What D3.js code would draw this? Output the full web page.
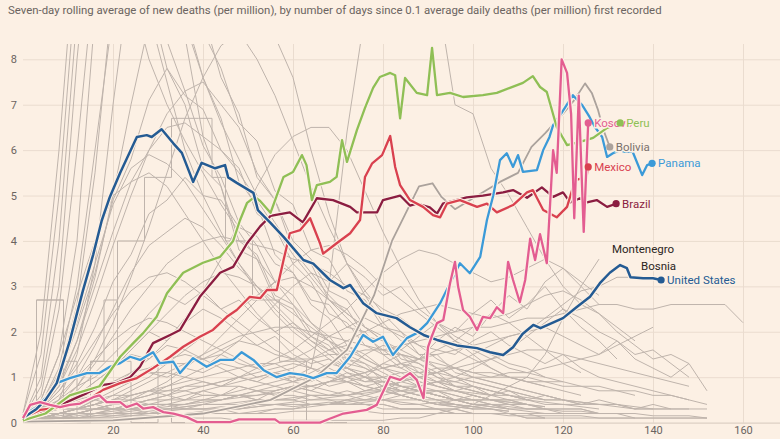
<!DOCTYPE html>
<html>
<head>
<meta charset="utf-8">
<script src="https://cdn.jsdelivr.net/npm/d3@7"></script>
<style>
  body { margin: 0; background: #fcf0e4; }
  svg { display: block; font-family: Roboto, "Open Sans", sans-serif; }
</style>
</head>
<body>
<svg id="chart" width="780" height="439"></svg>
<script>
// ---- data: seven-day average deaths per million, by days since 0.1 first recorded ----
var title = "Seven-day rolling average of new deaths (per million), by number of days since 0.1 average daily deaths (per million) first recorded";
var xTicks = [20, 40, 60, 80, 100, 120, 140, 160];
var yTicks = [0, 1, 2, 3, 4, 5, 6, 7, 8];

// highlighted countries, [day, value]
var usDeaths = [[0,0.1],[3,0.3],[5,0.5],[7.5,0.87],[10.4,1.8],[13.3,2.9],[15.6,3.7],[17.5,4.45],[19.3,4.97],[21.6,5.5],[25.3,6.29],[27.5,6.33],[28.6,6.29],[30.8,6.46],[33.4,6.15],[35.3,5.94],[37.8,5.3],[39.7,5.72],[42.7,5.6],[44.9,5.67],[45.6,5.4],[47.5,5.28],[51.2,5.06],[52.2,4.68],[55,4.4],[57.9,4.09],[62.3,3.58],[64.5,3.5],[68.2,3.14],[71.2,2.96],[72.7,3.03],[75.6,2.63],[78.6,2.41],[83,2.3],[86,2.1],[89,1.93],[92,1.82],[96.4,1.7],[100.9,1.64],[103.8,1.55],[106.7,1.49],[108.9,1.66],[111,1.95],[113.4,2.15],[115,2.08],[120,2.3],[123,2.54],[126,2.77],[128.2,3.07],[130.4,3.3],[132.7,3.47],[134.2,3.4],[135,3.2],[137.8,3.18],[140,3.18],[141.8,3.14]];
var brazilDeaths = [[0,0.05],[3.8,0.2],[9.7,0.45],[14.2,0.65],[17.8,0.83],[20.8,0.87],[23.8,1.0],[26,1.23],[28.9,1.75],[32.7,1.93],[34.9,2.04],[39.3,2.77],[43.8,3.3],[46.7,3.43],[49.8,3.95],[52.7,4.32],[55,4.55],[59.3,4.63],[62.2,4.41],[65.3,4.94],[68.9,4.9],[72.7,4.75],[74.2,4.63],[78.7,4.63],[80,4.9],[83.8,5.0],[86,4.78],[87.5,4.82],[90.4,4.74],[92,4.6],[93.3,4.82],[98.6,4.96],[102.2,5.0],[106.7,5.07],[108.9,5.12],[112,4.95],[115.3,5.18],[117.8,4.97],[120,5.07],[121.6,4.85],[123.8,4.94],[125.3,4.85],[127.5,4.9],[129.8,4.75],[131.8,4.82]];
var mexicoDeaths = [[0,0.1],[3.8,0.28],[8.9,0.34],[14.2,0.49],[17.8,0.72],[21.6,0.87],[25.3,0.98],[28.9,1.2],[32.7,1.45],[35.6,1.67],[39.3,1.89],[42.2,2.04],[45.3,2.33],[47.5,2.48],[50.4,2.77],[52.7,2.74],[54.2,2.92],[56.4,2.92],[57.9,3.58],[59.3,4.17],[61.6,4.24],[63.8,4.5],[66,3.95],[66.7,3.72],[69.7,3.95],[72.7,4.17],[74.9,4.46],[76,5.41],[77.6,5.71],[79.8,5.89],[81.6,6.31],[82.7,5.63],[83.8,5.23],[86,4.9],[88.9,4.75],[91.1,4.57],[92.7,4.52],[94.2,4.82],[97.1,4.9],[100.9,4.75],[103.1,4.82],[105.3,4.63],[108.9,4.79],[112,5.07],[113.3,5.12],[115.6,4.68],[118.6,4.52],[120.9,4.75],[122.7,5.34],[124.2,5.38],[125.3,5.45],[125.6,5.63]];
var peruDeaths = [[0,0.05],[5,0.2],[10.4,0.6],[17,0.8],[21.6,1.45],[24.5,1.75],[26.7,1.97],[29.7,2.33],[32,2.85],[35.6,3.3],[40,3.52],[43.8,3.65],[46.7,4.0],[48.2,4.45],[49.8,4.84],[51.5,4.97],[52.7,4.88],[55,4.62],[57.9,5.41],[60,5.52],[62,5.89],[63,5.67],[64.2,4.9],[65.3,5.23],[68.2,5.3],[69.7,5.41],[70.9,6.22],[72,5.74],[74.2,6.44],[76,6.93],[77.8,7.37],[79.3,7.61],[81.6,7.7],[82.7,7.65],[83.8,6.7],[84.9,7.59],[87.5,7.26],[89.8,7.21],[90.9,8.25],[92,7.21],[94.9,7.26],[97.8,7.17],[102.2,7.21],[105.3,7.26],[108.2,7.37],[111.1,7.48],[113.3,7.63],[114.9,7.39],[116.4,7.28],[118.6,6.51],[120.9,6.11],[123.8,6.18],[126.7,6.27],[129.8,6.49],[132.7,6.6]];
var panamaDeaths = [[0,0.16],[3,0.34],[6,0.65],[7.5,0.87],[10.4,0.98],[14.2,1.09],[17,1.09],[19.3,1.23],[21.6,1.31],[23.8,1.45],[26,1.38],[28.9,1.55],[30.4,1.31],[33.4,1.34],[34.9,1.09],[37.8,1.42],[40.8,1.23],[43.8,1.38],[46.7,1.38],[48.6,1.55],[51.2,1.38],[53.4,1.16],[56.4,1.0],[59.3,1.09],[62.3,1.05],[64.5,0.98],[67.5,1.09],[69.7,1.09],[72.7,1.45],[75.6,1.93],[77.8,1.78],[80,1.89],[82.2,1.49],[85.3,1.86],[87.5,1.97],[89.8,2.19],[92.7,2.63],[94.9,3.07],[97.1,3.51],[99.3,3.29],[101.6,3.65],[103.1,4.46],[104.5,5.0],[106,5.78],[107.5,5.93],[108.9,5.63],[110,5.89],[111.1,5.52],[114.2,5.56],[115.6,6.0],[117,6.29],[117.8,6.55],[119.7,6.82],[122.2,7.21],[124.2,7.0],[125.9,6.73],[127.1,6.51],[128.7,6.29],[129.8,5.85],[131.1,5.93],[132.7,6.0],[133.8,5.96],[135.5,5.96],[137.6,5.45],[138.7,5.67],[139.8,5.71]];
var kosovoDeaths = [[0,0.1],[1.6,0.39],[3.8,0.45],[6,0.39],[8.2,0.34],[10.4,0.39],[12.7,0.42],[15.6,0.56],[17,0.6],[18.6,0.45],[21.6,0.45],[23,0.34],[25.3,0.42],[26.7,0.31],[28.9,0.34],[31.2,0.23],[33.4,0.2],[36.4,0.12],[38.7,0.01],[46,0.01],[48,0.07],[56,0.07],[57,0],[66,0],[68,0.08],[71.2,0.2],[76.4,0.28],[78.6,0.39],[81.6,1.01],[83.8,0.94],[86,1.09],[87.5,0.94],[89,0.54],[90,1.66],[90.8,1.89],[92,2.19],[93.4,2.26],[94.9,3.07],[96,3.54],[96.7,2.99],[97.8,2.48],[99.3,2.33],[100.9,2.04],[102.2,2.33],[103.8,2.3],[105.3,2.54],[106.7,2.41],[107.8,3.54],[108.9,3.14],[110.4,2.65],[111.6,3.14],[112.7,4.05],[113.8,3.58],[114.9,4.15],[116.4,3.51],[117.8,6.0],[118.6,5.5],[119.7,8.0],[120.9,7.7],[121.8,6.8],[122.5,4.5],[123.5,7.2],[124.6,4.2],[125.6,6.6]];
var boliviaDeaths = [[0,0.02],[20,0.05],[40,0.2],[55,0.5],[65,1.0],[72,1.6],[78,2.8],[82,4.0],[85,4.6],[88,5.2],[91,5.27],[93,4.97],[96,4.7],[101,5.0],[106,5.3],[110,5.5],[113,6.07],[116,6.37],[120,6.8],[122.5,7.1],[124.9,7.47],[126.4,7.26],[127.8,6.88],[129,6.44],[130.4,6.07]];

// other countries: values every 4 days from day 0
var greyStep = 4;
var greyLines = [
  [0.1,0.8,3,8,12,13,12,10,8.4,7.3,6.1,5.4,4.4,3.9,3.1,2.8,2.2,1.9,1.4,1.3,0.9,0.8,0.7,0.6,0.5,0.4,0.35,0.3,0.25,0.2,0.2],
  [0.1,0.5,1.5,4,9,14,16,14,11,9,7.6,6.7,5.3,4.8,3.7,3.3,2.6,2.3,1.7,1.5,1.2,1.1,0.9,0.8,0.7,0.6,0.5,0.45,0.4,0.35],
  [0.2,1.5,5,10,14,13,11,9.4,7.8,7.0,5.6,5.2,4.0,3.7,2.8,2.6,2.0,1.8,1.3,1.2,1,0.8,0.7,0.6,0.5,0.4,0.35,0.3],
  [0.1,0.3,1,2.6,5.5,9.5,12,13,12,10.5,9,7.6,6.8,5.4,4.9,3.8,3.5,2.7,2.5,1.9,1.8,1.3,1.2,1,0.9,0.8,0.7,0.6,0.5,0.45,0.4,0.35,0.3],
  [0.1,0.4,1.2,3,6,9,10.5,11,10.5,9.6,8.6,7.8,6.6,6.2,5.1,4.8,3.8,3.6,2.9,2.7,2.1,2.0,1.5,1.5,1.1,1.0,0.9,0.8,0.7,0.6,0.5,0.45,0.4,0.35,0.3,0.3],
  [0.1,1,4,9,16,22,20,15,11,8.5,6.3,5.2,3.8,3.6,2.7,2.5,1.9,1.7,1.2,1.1,0.7,0.6,0.5,0.4,0.35,0.3,0.3,0.25],
  [0.1,0.4,1,2.1,3.3,4.9,5.8,7.1,7.8,7.2,6.9,6.0,5.6,4.6,4.3,3.5,3.1,2.4,2.2,1.7,1.5,1.2,1,0.8,0.7,0.6,0.5,0.45,0.4,0.35],
  [0.1,0.3,0.8,1.6,2.7,3.9,5,6,6.8,7.3,7.5,7.0,6.5,5.5,4.9,4.0,3.6,2.9,2.7,2.1,1.9,1.4,1.3,1,0.8,0.7,0.6,0.5,0.4],
  [0.1,0.3,0.7,1.3,2.1,3.1,3.7,4.6,4.9,5.4,5.0,4.9,4.3,4.1,3.5,3.3,2.7,2.6,2.1,2.0,1.5,1.5,1.1,1.1,0.8,0.8,0.7,0.6,0.5],
  [0.1,0.2,0.5,1,1.7,2.5,3.3,3.9,4.2,4.5,4.3,3.9,3.4,3,2.6,2.2,1.9,1.6,1.4,1.2,1,0.8,0.7,0.6,0.5,0.4,0.4,0.3],
  [0.1,0.2,0.4,0.8,1.3,1.9,2.5,3,3.5,3.8,4,4.1,4,3.9,3.8,3.6,3.5,3.3,3,2.8,2.5,2.3,2,1.8,1.6,1.4,1.2,1,0.9,0.8,0.7,0.6],
  [0.1,0.4,1.1,2.2,3.5,4.8,5.6,5.9,5.7,5.3,4.7,4.1,3.5,3,2.5,2.1,1.8,1.5,1.2,1,0.8,0.7,0.6,0.5,0.4,0.35,0.3],
  [0.1,0.1,0.2,0.2,0.3,0.3,0.4,0.4,0.5,0.5,0.6,0.6,0.7,0.8,0.9,1.0,1.2,3,6.4,9,11,12,11,9.5,7,6.8,5.6,5,4.3,3.6,3,2.6,2.4,2.1,1.8],
  [0.1,0.2,0.3,0.4,0.6,0.8,1.1,1.4,1.8,2.3,2.9,3.6,4.4,5.2,5.9,6.3,6.5,6.5,6.0,5.1,4.2,3.4,2.7,2.2,1.8,1.5,1.2,1.0,0.9,0.8],
  [0.1,0.1,0.2,0.3,0.4,0.5,0.6,0.7,0.8,0.9,1,1.1,1.2,1.3,1.3,1.4,1.4,1.5,1.5,1.6,1.6,1.7,1.8,1.9,2,2.1,2.1,2.2,2.3,2.3,2.4,2.5,2.6,2.6,2.5,2.5,2.6,2.6,2.6,2.6,2.2],
  [0.1,0.5,1.5,2.8,4,5,5.3,5.5,5.2,4.6,4,3.4,2.9,2.4,2,1.7,1.4,1.2,1,0.8,0.7,0.6,0.5,0.4,0.35,0.3],
  [0.1,0.3,0.9,1.8,3,4.2,5.3,6,6.5,6.6,6.3,6,5.5,4.9,4.3,3.7,3.2,2.7,2.3,1.9,1.6,1.3,1.1,0.9,0.8,0.7,0.6],
  [0.1,0.6,2.5,6,10,12,11,9,7.5,6,5,4.2,3.5,2.9,2.4,2,1.7,1.4,1.2,1,0.8,0.7,0.6,0.5,0.4,0.35,0.3,0.25],
  [0.2,2,6,11,15,12,9.5,8,7,6.2,5.5,4.8,4.2,3.6,3.1,2.6,2.2,1.8,1.5,1.3,1.1,0.9,0.8,0.7,0.6,0.5],
  [0.1,0.2,0.5,1.5,3.5,7,10,11,10,8.8,7.6,6.6,5.8,5,4.4,3.8,3.3,2.8,2.4,2.1,1.8,1.5,1.3,1.1,1,0.9,0.8,0.7,0.6,0.5,0.5,0.4],
  [0.1,0.2,0.4,0.8,1.4,2.2,3.2,4.3,5.5,6.7,7.6,8.3,8.6,8.0,7.2,6.2,5.2,4.3,3.5,2.9,2.4,2,1.7,1.4,1.2,1,0.9,0.8,0.7,0.6,0.5],
  [0.1,0.3,0.8,1.8,3.2,5,7,8.8,9.6,9.8,9.4,8.9,8.6,8.9,8.5,7.6,6,4.6,3.5,2.8,2.2,1.8,1.5,1.2,1,0.8,0.7,0.6,0.5],
  [0.1,0.2,0.4,0.6,0.8,0.9,1,1.1,1.1,1,0.9,0.8,0.8,0.7,0.6,0.6,0.5,0.5,0.4,0.4,0.4,0.3,0.3,0.3,0.2,0.2,0.2,0.2,0.1,0.1,0.1,0.1,0.1,0.1,0.1],
  [0.1,0.1,0.2,0.3,0.5,0.7,0.9,1.2,1.4,1.5,1.4,1.2,1,0.9,0.8,0.7,0.6,0.5,0.5,0.4,0.4,0.3,0.3,0.3,0.2,0.2,0.2,0.2,0.1,0.1],
  [0.1,0.3,0.6,1,1.4,1.8,2.1,2.3,2.2,2,1.8,1.6,1.4,1.2,1,0.9,0.8,0.7,0.6,0.5,0.5,0.4,0.4,0.3,0.3,0.2,0.2,0.2,0.2,0.1],
  [0.1,0.1,0.1,0.2,0.2,0.3,0.3,0.4,0.4,0.5,0.5,0.6,0.6,0.7,0.7,0.8,0.8,0.9,0.9,1,1,1.1,1.1,1.2,1.2,1.1,1.1,1,1,0.9,0.9,0.8,0.8,0.7,0.7,0.6,0.6,0.5],
  [0.1,0.2,0.2,0.3,0.3,0.4,0.5,0.6,0.7,0.8,0.8,0.9,1,1.1,1.2,1.3,1.2,1.1,1,0.9,0.9,0.8,0.7,0.7,0.6,0.5,0.5,0.4,0.4,0.3,0.3,0.3,0.2],
  [0.1,0.1,0.2,0.2,0.3,0.3,0.4,0.5,0.5,0.6,0.7,0.8,0.9,1,1.1,1.2,1.4,1.6,1.8,2,2.2,2.4,2.5,2.6,2.5,2.4,2.3,2.4,2.6,2.8,2.9,2.7,2.4,2,1.7,1.4,1.5,1.3],
  [0.1,0.1,0.2,0.2,0.3,0.3,0.3,0.4,0.4,0.4,0.5,0.5,0.6,0.6,0.7,0.8,0.8,0.9,1,1.1,1.2,1.3,1.4,1.5,1.6,1.7,1.8,1.9,2,2.1,1.9,1.7,1.5,1.8,1.4,1.2,1,1.3,0.7],
  [0.1,0.1,0.1,0.2,0.2,0.2,0.3,0.3,0.3,0.3,0.4,0.4,0.4,0.5,0.5,0.5,0.6,0.6,0.6,0.7,0.7,0.8,0.8,0.9,0.9,1,1,1.1,1.1,1.2,1.3,1.4,1.5,1.7,1.9,2.1],
  [0.1,0.1,0.1,0.1,0.2,0.2,0.2,0.2,0.3,0.3,0.3,0.3,0.3,0.4,0.4,0.4,0.4,0.4,0.5,0.5,0.5,0.5,0.5,0.5,0.5,0.5,0.5,0.5,0.5,0.4,0.4,0.4,0.4,0.4,0.3,0.3,0.3,0.3,0.3],
  [0.05,0.05,0.1,0.1,0.1,0.1,0.15,0.15,0.15,0.2,0.2,0.2,0.2,0.2,0.2,0.25,0.25,0.25,0.25,0.25,0.2,0.2,0.2,0.2,0.2,0.2,0.2,0.15,0.15,0.15,0.15,0.15,0.1,0.1,0.1,0.1,0.1,0.1,0.1],
  [0.1,0.2,0.3,0.5,0.7,0.9,1.1,1.2,1.3,1.3,1.4,1.6,1.8,1.7,1.5,1.4,1.6,1.9,2.1,2.3,2.1,1.9,1.7,1.6,1.8,2.1,2.4,2.2,1.9,1.6,1.3,1.1],
  [0.1,0.1,0.2,0.3,0.4,0.6,0.8,1,1.3,1.6,1.9,2.2,2.5,2.8,3.1,3.2,3,2.7,2.4,2.1,1.8,1.6,1.4,1.2,1,0.9,0.8,0.7,0.6,0.5],
  [0.1,0.1,0.2,0.2,0.3,0.4,0.5,0.7,0.9,1.2,1.5,1.9,2.3,2.7,3.1,3.5,3.8,3.9,3.7,3.4,3,2.7,2.4,2.1,1.8,1.6,1.4,1.2,1.1,1,0.9],
  [0.1,0.2,0.4,0.6,0.9,1.2,1.6,2,2.4,2.8,3.1,3.3,3.2,3,2.7,2.4,2.1,1.8,1.6,1.4,1.2,1,0.9,0.8,0.7,0.6,0.5,0.5,0.4],
  [0.1,0.1,0.2,0.2,0.3,0.3,0.4,0.5,0.6,0.7,0.8,0.9,1,1.2,1.4,1.6,1.9,2.2,2.5,2.9,3.3,3.6,3.8,3.7,3.5,3.3,3.1,3.2,3.4,3.6,3.4,3.1,2.8],
  [0.05,0.1,0.1,0.15,0.2,0.2,0.25,0.3,0.3,0.35,0.4,0.4,0.45,0.5,0.5,0.55,0.6,0.6,0.6,0.65,0.7,0.7,0.7,0.7,0.7,0.65,0.6,0.6,0.55,0.5,0.5,0.45,0.4,0.4,0.35,0.3,0.3,0.3],
  [0.1,0.2,0.3,0.4,0.5,0.6,0.6,0.7,0.7,0.7,0.6,0.6,0.6,0.5,0.5,0.5,0.4,0.4,0.4,0.4,0.3,0.3,0.3,0.3,0.3,0.2,0.2,0.2,0.2,0.2,0.2],
  [0.1,0.3,0.7,1.2,1.8,2.4,2.9,3.2,3.3,3.1,2.8,2.5,2.2,1.9,1.6,1.4,1.2,1,0.9,0.8,0.7,0.6,0.5,0.4,0.4,0.3,0.3,0.2,0.2],
  [0.1,0.1,0.2,0.3,0.4,0.5,0.7,0.9,1.1,1.3,1.5,1.7,1.9,2,2.1,2.1,2,1.9,1.8,1.7,1.6,1.5,1.4,1.3,1.2,1.1,1,1,0.9,0.9,0.8,0.8,0.7,0.7,0.6],
  [0.05,0.05,0.1,0.1,0.1,0.15,0.15,0.2,0.2,0.2,0.25,0.3,0.3,0.35,0.4,0.45,0.5,0.55,0.6,0.7,0.8,0.9,1,1.1,1.2,1.3,1.4,1.5,1.6,1.6,1.5,1.4,1.3,1.2,1.1,1,0.9,0.8],
  [0.1,0.1,0.1,0.2,0.2,0.3,0.3,0.3,0.4,0.4,0.5,0.5,0.6,0.7,0.8,0.9,1.1,1.3,1.2,1.5,1.7,1.6,1.9,2.2,2.0,2.4,2.7,2.3,2.6,3.0,2.5,2.1,1.8,1.4],
  [0.05,0.1,0.1,0.1,0.15,0.2,0.2,0.25,0.3,0.35,0.4,0.5,0.6,0.5,0.7,0.8,0.7,0.9,1.1,1.0,1.3,1.5,1.4,1.8,2.1,1.9,2.4,2.8,2.5,3.1,3.4,3.0,2.6],
  [0.1,0.2,0.3,0.3,0.5,0.4,0.6,0.7,0.6,0.8,0.9,0.8,1.0,0.9,1.1,1.0,0.9,1.1,1.2,1.0,0.9,1.0,0.8,0.9,0.7,0.8,0.6,0.7,0.5,0.6,0.5,0.4,0.5,0.4,0.3,0.4,0.3],
  [0.1,0.1,0.2,0.3,0.3,0.4,0.4,0.5,0.6,0.5,0.7,0.6,0.8,0.7,0.6,0.8,0.7,0.6,0.7,0.6,0.5,0.6,0.5,0.4,0.5,0.4,0.4,0.3,0.3,0.3,0.2,0.2,0.2,0.2,0.1,0.1,0.1,0.1,0.1],
  [0.05,0.05,0.1,0.1,0.15,0.15,0.2,0.2,0.25,0.3,0.3,0.35,0.3,0.35,0.4,0.35,0.4,0.45,0.4,0.45,0.5,0.45,0.4,0.45,0.4,0.35,0.4,0.35,0.3,0.3,0.25,0.25,0.2,0.2,0.2,0.15,0.15,0.15,0.1],
  [0.1,0.3,0.5,0.8,1.0,1.3,1.5,1.4,1.7,1.6,1.4,1.5,1.3,1.2,1.3,1.1,1.0,1.1,0.9,0.8,0.9,0.7,0.6,0.7,0.5,0.5,0.4,0.4,0.3,0.3],
  [0.1,0.2,0.4,0.7,1.1,1.5,1.9,2.4,2.8,2.6,2.9,2.5,2.7,2.3,2.0,2.2,1.8,1.6,1.7,1.4,1.2,1.3,1.0,0.9,0.8,0.7,0.6],
  [0.1,0.1,0.2,0.2,0.3,0.4,0.5,0.6,0.8,1.0,1.2,1.5,1.8,2.2,2.6,3.0,3.3,3.1,3.5,3.2,2.8,3.0,2.5,2.2,1.9,1.7,1.5,1.3,1.2,1.0],
  [0.05,0.05,0.1,0.1,0.1,0.1,0.1,0.15,0.15,0.15,0.2,0.2,0.2,0.25,0.3,0.3,0.35,0.4,0.45,0.5,0.6,0.7,0.8,0.9,1.0,1.2,1.4,1.6,1.9,2.2,2.5,2.3,2.0,1.8,1.5,1.6,1.3,1.0],
  [0.1,0.2,0.3,0.5,0.6,0.8,0.9,1.1,1.0,1.2,1.1,1.3,1.2,1.0,1.1,0.9,1.0,0.8,0.9,0.7,0.8,0.6,0.7,0.6,0.5,0.6,0.5,0.4,0.4,0.3,0.3,0.3,0.2],
  [0.1,0.2,0.4,0.6,0.9,1.2,1.6,2.0,1.8,2.2,2.5,2.3,2.0,1.7,1.9,1.5,1.3,1.4,1.1,0.9,1.0,0.8,0.7,0.6,0.5,0.5,0.4],
  [0.05,0.1,0.15,0.2,0.2,0.25,0.3,0.3,0.35,0.4,0.45,0.5,0.55,0.6,0.65,0.7,0.8,0.9,1.0,1.1,1.3,1.2,1.4,1.6,1.5,1.8,2.0,1.7,1.5,1.3,1.5,1.2,1.0,0.9,0.8,0.7,0.6,0.5,0.4]
];
// small countries reported in steps, values every 3 days from day 0
var stepDays = 3;
var greyStepLines = [
  [0,2.7,2.7,0,0,1.35,1.35,4,4,5.4,5.4,6.7,6.7,6.7,5.4,4,4,2.7,2.7,1.35,1.35,0,0,0,0],
  [0,2.7,2.7,1.35,0,1.35,2.7,1.35,0,0,1.35,0,0]
];
// labelled grey countries, values every 4 days
var montenegroDeaths = [0.1,0.2,0.3,0.3,0.4,0.3,0.3,0.2,0.2,0.1,0.1,0.1,0.05,0.05,0.05,0.05,0.05,0.05,0.05,0.05,0.05,0.1,0.1,0.2,0.3,0.4,0.6,0.8,1.0,1.5,2.3,3.0,3.6];
var bosniaDeaths = [0.1,0.1,0.2,0.3,0.4,0.5,0.5,0.4,0.4,0.3,0.3,0.3,0.2,0.2,0.3,0.3,0.4,0.4,0.5,0.6,0.7,0.9,1.0,1.1,1.3,1.5,1.7,1.9,2.0,2.3,2.6,2.9,3.0,3.2,3.2];

// ---- chart ----
var bg = "#fcf0e4";
var svg = d3.select("#chart"),
    width = +svg.attr("width"),
    height = +svg.attr("height");

var x = d3.scaleLinear().domain([0, 168]).range([23, 779]);
var y = d3.scaleLinear().domain([0, 8]).range([422.6, 59.3]);
var plotTop = 44;

svg.append("rect").attr("width", width).attr("height", height).attr("fill", bg);

svg.append("text")
    .attr("x", 8).attr("y", 14)
    .attr("font-size", 11.4).attr("fill", "#6b6460")
    .text(title);

// grid
var gridX = svg.append("g")
    .attr("transform", "translate(0," + y(0) + ")")
    .call(d3.axisBottom(x).tickValues(xTicks).tickSize(-(y(0) - plotTop)).tickPadding(4));
gridX.select(".domain").remove();
gridX.selectAll("line").attr("stroke", "#eadccf");
gridX.selectAll("text").attr("fill", "#6b6460").attr("font-size", 11).attr("font-family", "Roboto, sans-serif");

var gridY = svg.append("g")
    .attr("transform", "translate(" + x(0) + ",0)")
    .call(d3.axisLeft(y).tickValues(yTicks).tickSize(-(width - x(0))).tickPadding(6));
gridY.select(".domain").remove();
gridY.selectAll("line").attr("stroke", function(d) { return d === 0 ? "#d6c8bc" : "#eadccf"; });
gridY.selectAll("text").attr("fill", "#6b6460").attr("font-size", 11).attr("font-family", "Roboto, sans-serif");

svg.append("clipPath").attr("id", "plot")
  .append("rect").attr("x", x(0) - 2).attr("y", plotTop).attr("width", width).attr("height", y(0) - plotTop + 2);

var plot = svg.append("g").attr("clip-path", "url(#plot)");

var line = d3.line().x(function(d) { return x(d[0]); }).y(function(d) { return y(d[1]); });
var stepLine = d3.line().curve(d3.curveStepAfter).x(function(d) { return x(d[0]); }).y(function(d) { return y(d[1]); });

function toPairs(vals, step) {
  return vals.map(function(v, i) { return [i * step, v]; });
}

var greyColor = "#bfb4ac";
plot.selectAll(".grey").data(greyLines).enter().append("path")
    .attr("fill", "none").attr("stroke", greyColor).attr("stroke-width", 1)
    .attr("d", function(d) { return line(toPairs(d, greyStep)); });
plot.selectAll(".greystep").data(greyStepLines).enter().append("path")
    .attr("fill", "none").attr("stroke", greyColor).attr("stroke-width", 1)
    .attr("d", function(d) { return stepLine(toPairs(d, stepDays)); });

var greyNamed = [
  {name: "Montenegro", pts: toPairs(montenegroDeaths, greyStep), dx: 13, dy: -10},
  {name: "Bosnia", pts: toPairs(bosniaDeaths, greyStep), dx: 6, dy: -11}
];
plot.selectAll(".greynamed").data(greyNamed).enter().append("path")
    .attr("fill", "none").attr("stroke", greyColor).attr("stroke-width", 1)
    .attr("d", function(d) { return line(d.pts); });

var highlights = [
  {name: "Bolivia", pts: boliviaDeaths, color: "#aba29c", text: "#7a716c", w: 1.8},
  {name: "Brazil", pts: brazilDeaths, color: "#8b1d41", text: "#8b1d41", w: 2.3},
  {name: "Mexico", pts: mexicoDeaths, color: "#d9414f", text: "#d9414f", w: 2.3},
  {name: "Panama", pts: panamaDeaths, color: "#3b9ad8", text: "#3b9ad8", w: 2.3},
  {name: "Peru", pts: peruDeaths, color: "#8fbf55", text: "#8fbf55", w: 2.3},
  {name: "United States", pts: usDeaths, color: "#245b93", text: "#245b93", w: 2.5},
  {name: "Kosovo", pts: kosovoDeaths, color: "#e35d91", text: "#e35d91", w: 2.3}
];

highlights.forEach(function(h) {
  plot.append("path").attr("fill", "none").attr("stroke", bg).attr("stroke-width", h.w + 2.2)
      .attr("stroke-linejoin", "round").attr("d", line(h.pts));
  plot.append("path").attr("fill", "none").attr("stroke", h.color).attr("stroke-width", h.w)
      .attr("stroke-linejoin", "round").attr("d", line(h.pts));
});

// end dots and labels (drawn in this order so Peru sits over Kosovo)
var labelOrder = ["United States", "Brazil", "Mexico", "Bolivia", "Panama", "Kosovo", "Peru"];
var labels = svg.append("g").attr("font-size", 11.5);
labelOrder.forEach(function(n) {
  var h = highlights.find(function(d) { return d.name === n; });
  var end = h.pts[h.pts.length - 1];
  labels.append("circle").attr("cx", x(end[0])).attr("cy", y(end[1])).attr("r", 3.6).attr("fill", h.color);
  labels.append("text")
      .attr("x", x(end[0]) + 6).attr("y", y(end[1])).attr("dy", "0.35em")
      .attr("fill", h.text).attr("stroke", bg).attr("stroke-width", 3).attr("paint-order", "stroke")
      .text(n);
});
greyNamed.forEach(function(g) {
  var end = g.pts[g.pts.length - 1];
  labels.append("text")
      .attr("x", x(end[0]) + g.dx).attr("y", y(end[1]) + g.dy).attr("dy", "0.35em")
      .attr("fill", "#2b2522").attr("stroke", bg).attr("stroke-width", 3).attr("paint-order", "stroke")
      .text(g.name);
});
</script>
</body>
</html>
